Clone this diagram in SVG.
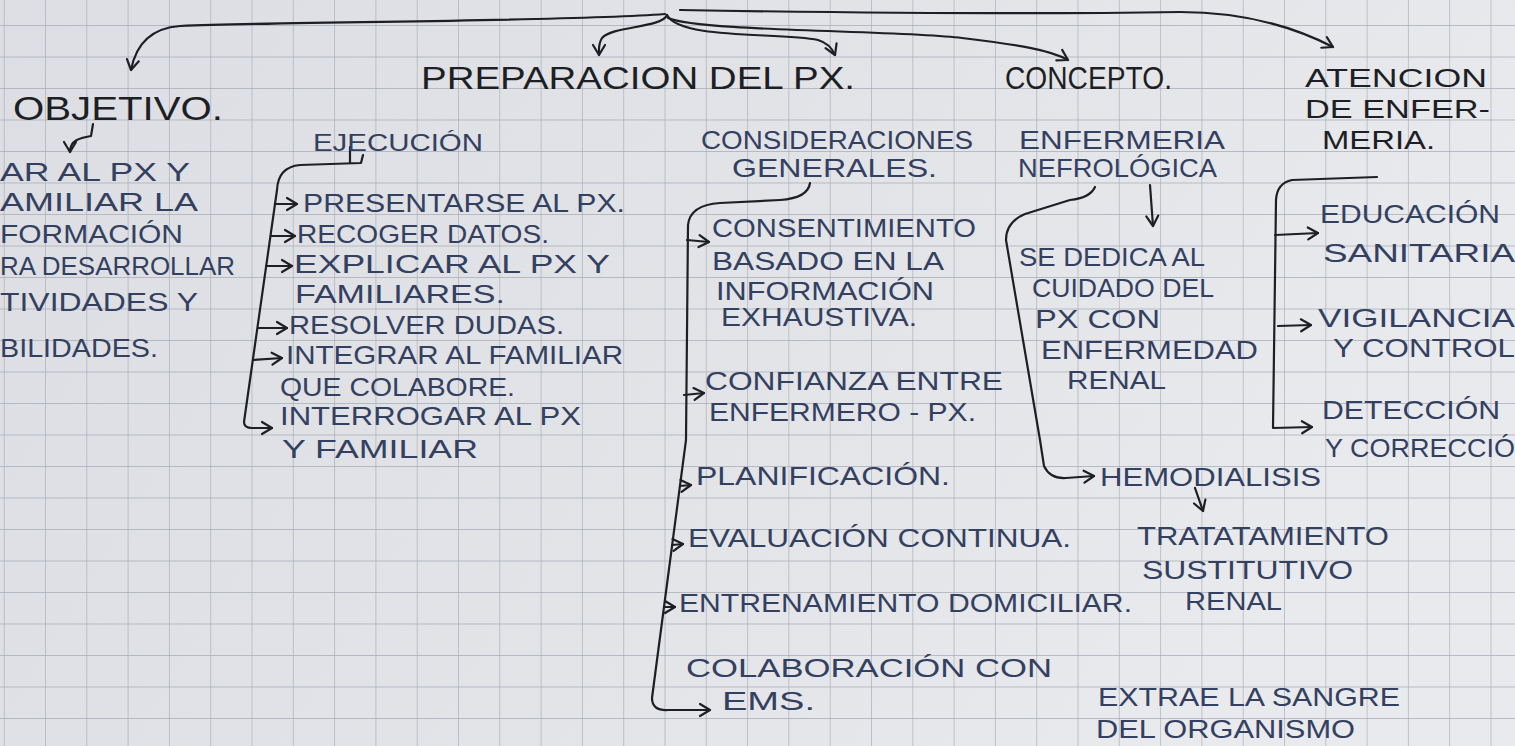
<svg xmlns="http://www.w3.org/2000/svg" width="1515" height="746" viewBox="0 0 1515 746">
<style>
.h{font-family:"Liberation Sans",Arial,sans-serif;fill:#1e1f24;font-size:32px}
.a{font-family:"Liberation Sans",Arial,sans-serif;fill:#1e1f24;font-size:25px}
.b{font-family:"Liberation Sans",Arial,sans-serif;fill:#34405f;font-size:25px}
.c{fill:none;stroke:#1e1f24;stroke-width:2.2;stroke-linecap:round;stroke-linejoin:round}
</style>
<defs>
<linearGradient id="paper" x1="0" y1="0" x2="1" y2="0.3">
<stop offset="0" stop-color="#dcdee3"/>
<stop offset="0.6" stop-color="#e2e4e8"/>
<stop offset="1" stop-color="#e9eaed"/>
</linearGradient>
<pattern id="grid" patternUnits="userSpaceOnUse" x="3.7" y="25" width="41.3" height="31.5">
<path d="M0,0 H41.3 M0,0 V31.5" fill="none" stroke="#a7acb5" stroke-width="1.3"/>
</pattern>
<marker id="v" markerUnits="userSpaceOnUse" markerWidth="16" markerHeight="16" viewBox="0 0 16 16" refX="13" refY="8" orient="auto">
<path d="M3,2 L13,8 L3,14" fill="none" stroke="#1e1f24" stroke-width="2.2" stroke-linecap="round" stroke-linejoin="round"/>
</marker>
</defs>
<rect width="1515" height="746" fill="url(#paper)"/>
<rect width="1515" height="746" fill="url(#grid)"/>

<g id="connectors">
<path class="c" d="M665,14 C560,22 300,21 180,26 C152,28 136,44 131,70" marker-end="url(#v)"/>
<path class="c" d="M667,15 C662,28 612,26 602,38 C598,44 599,50 599,55" marker-end="url(#v)"/>
<path class="c" d="M667,15 C680,40 780,32 818,40 C828,43 832,48 835,55" marker-end="url(#v)"/>
<path class="c" d="M668,18 C700,32 900,30 962,38 C1020,45 1050,50 1068,60" marker-end="url(#v)"/>
<path class="c" d="M680,10 C800,12 1000,15 1180,12 C1250,12 1300,30 1333,47" marker-end="url(#v)"/>
<path class="c" d="M93,124 L91,136 C80,138 70,140 70,152" marker-end="url(#v)"/>
<path class="c" d="M350,147 L350,163 M363,155 L361,163 L300,165 Q278,167 277,190 L244,422 Q244,428 252,428 L272,428" marker-end="url(#v)"/>
<path class="c" d="M275,204 L297,204" marker-end="url(#v)"/>
<path class="c" d="M271,236 L295,236" marker-end="url(#v)"/>
<path class="c" d="M266,266 L292,266" marker-end="url(#v)"/>
<path class="c" d="M258,328 L287,328" marker-end="url(#v)"/>
<path class="c" d="M253,360 L282,358" marker-end="url(#v)"/>
<path class="c" d="M810,183 Q808,198 780,200 L720,203 Q690,205 688,225 L686,440 L652,698 Q652,711 668,710 L710,710" marker-end="url(#v)"/>
<path class="c" d="M687,240 L709,242" marker-end="url(#v)"/>
<path class="c" d="M684,395 L704,393" marker-end="url(#v)"/>
<path class="c" d="M680,486 L691,485" marker-end="url(#v)"/>
<path class="c" d="M672,545 L683,544" marker-end="url(#v)"/>
<path class="c" d="M664,607 L675,607" marker-end="url(#v)"/>
<path class="c" d="M1095,187 Q1090,198 1070,200 L1025,214 Q1006,222 1006,240 L1040,440 L1044,466 Q1050,479 1066,478 L1094,476" marker-end="url(#v)"/>
<path class="c" d="M1150,185 L1153,226" marker-end="url(#v)"/>
<path class="c" d="M1195,488 L1203,511" marker-end="url(#v)"/>
<path class="c" d="M1377,177 L1292,180 Q1277,183 1276,200 L1273,428 L1312,427" marker-end="url(#v)"/>
<path class="c" d="M1275,235 L1318,233" marker-end="url(#v)"/>
<path class="c" d="M1278,326 L1311,325" marker-end="url(#v)"/>
</g>

<g id="objetivo">
<text class="h" x="13" y="120" style="font-size:34px" textLength="210" lengthAdjust="spacingAndGlyphs">OBJETIVO.</text>
<text class="b" x="0" y="181" textLength="190" lengthAdjust="spacingAndGlyphs">AR AL PX Y</text>
<text class="b" x="0" y="211" textLength="198" lengthAdjust="spacingAndGlyphs">AMILIAR LA</text>
<text class="b" x="0" y="243" textLength="183" lengthAdjust="spacingAndGlyphs">FORMACIÓN</text>
<text class="b" x="0" y="275" textLength="235" lengthAdjust="spacingAndGlyphs">RA DESARROLLAR</text>
<text class="b" x="0" y="311" textLength="198" lengthAdjust="spacingAndGlyphs">TIVIDADES Y</text>
<text class="b" x="0" y="357" textLength="158" lengthAdjust="spacingAndGlyphs">BILIDADES.</text>
</g>

<g id="preparacion">
<text class="h" x="421" y="89" style="font-size:31px" textLength="434" lengthAdjust="spacingAndGlyphs">PREPARACION DEL PX.</text>
</g>

<g id="ejecucion">
<text class="b" x="313" y="151" style="font-size:23px" textLength="170" lengthAdjust="spacingAndGlyphs">EJECUCIÓN</text>
<text class="b" x="303" y="212" textLength="322" lengthAdjust="spacingAndGlyphs">PRESENTARSE AL PX.</text>
<text class="b" x="297" y="243" textLength="252" lengthAdjust="spacingAndGlyphs">RECOGER DATOS.</text>
<text class="b" x="294" y="273" textLength="316" lengthAdjust="spacingAndGlyphs">EXPLICAR AL PX Y</text>
<text class="b" x="295" y="303" textLength="210" lengthAdjust="spacingAndGlyphs">FAMILIARES.</text>
<text class="b" x="289" y="334" textLength="275" lengthAdjust="spacingAndGlyphs">RESOLVER DUDAS.</text>
<text class="b" x="286" y="364" textLength="337" lengthAdjust="spacingAndGlyphs">INTEGRAR AL FAMILIAR</text>
<text class="b" x="280" y="396" textLength="235" lengthAdjust="spacingAndGlyphs">QUE COLABORE.</text>
<text class="b" x="280" y="425" textLength="301" lengthAdjust="spacingAndGlyphs">INTERROGAR AL PX</text>
<text class="b" x="282" y="458" textLength="196" lengthAdjust="spacingAndGlyphs">Y FAMILIAR</text>
</g>

<g id="consideraciones">
<text class="b" x="701" y="149" textLength="272" lengthAdjust="spacingAndGlyphs">CONSIDERACIONES</text>
<text class="b" x="732" y="177" textLength="205" lengthAdjust="spacingAndGlyphs">GENERALES.</text>
<text class="b" x="712" y="237" textLength="264" lengthAdjust="spacingAndGlyphs">CONSENTIMIENTO</text>
<text class="b" x="712" y="270" textLength="232" lengthAdjust="spacingAndGlyphs">BASADO EN LA</text>
<text class="b" x="716" y="300" textLength="218" lengthAdjust="spacingAndGlyphs">INFORMACIÓN</text>
<text class="b" x="721" y="326" textLength="196" lengthAdjust="spacingAndGlyphs">EXHAUSTIVA.</text>
<text class="b" x="705" y="390" textLength="298" lengthAdjust="spacingAndGlyphs">CONFIANZA ENTRE</text>
<text class="b" x="709" y="421" textLength="267" lengthAdjust="spacingAndGlyphs">ENFERMERO - PX.</text>
<text class="b" x="696" y="485" textLength="254" lengthAdjust="spacingAndGlyphs">PLANIFICACIÓN.</text>
<text class="b" x="688" y="547" textLength="383" lengthAdjust="spacingAndGlyphs">EVALUACIÓN CONTINUA.</text>
<text class="b" x="679" y="612" textLength="453" lengthAdjust="spacingAndGlyphs">ENTRENAMIENTO DOMICILIAR.</text>
<text class="b" x="686" y="677" textLength="366" lengthAdjust="spacingAndGlyphs">COLABORACIÓN CON</text>
<text class="b" x="722" y="710" textLength="93" lengthAdjust="spacingAndGlyphs">EMS.</text>
</g>

<g id="concepto">
<text class="h" x="1005" y="89" style="font-size:31px" textLength="167" lengthAdjust="spacingAndGlyphs">CONCEPTO.</text>
<text class="b" x="1019" y="149" textLength="206" lengthAdjust="spacingAndGlyphs">ENFERMERIA</text>
<text class="b" x="1018" y="177" textLength="199" lengthAdjust="spacingAndGlyphs">NEFROLÓGICA</text>
<text class="b" x="1019" y="266" textLength="186" lengthAdjust="spacingAndGlyphs">SE DEDICA AL</text>
<text class="b" x="1032" y="297" textLength="182" lengthAdjust="spacingAndGlyphs">CUIDADO DEL</text>
<text class="b" x="1035" y="328" textLength="125" lengthAdjust="spacingAndGlyphs">PX CON</text>
<text class="b" x="1041" y="359" textLength="217" lengthAdjust="spacingAndGlyphs">ENFERMEDAD</text>
<text class="b" x="1067" y="389" textLength="99" lengthAdjust="spacingAndGlyphs">RENAL</text>
</g>

<g id="hemodialisis">
<text class="b" x="1100" y="486" textLength="221" lengthAdjust="spacingAndGlyphs">HEMODIALISIS</text>
<text class="b" x="1137" y="545" textLength="252" lengthAdjust="spacingAndGlyphs">TRATATAMIENTO</text>
<text class="b" x="1142" y="579" textLength="211" lengthAdjust="spacingAndGlyphs">SUSTITUTIVO</text>
<text class="b" x="1185" y="610" textLength="97" lengthAdjust="spacingAndGlyphs">RENAL</text>
<text class="b" x="1098" y="706" textLength="302" lengthAdjust="spacingAndGlyphs">EXTRAE LA SANGRE</text>
<text class="b" x="1096" y="738" textLength="259" lengthAdjust="spacingAndGlyphs">DEL ORGANISMO</text>
</g>

<g id="atencion">
<text class="a" x="1305" y="87" textLength="182" lengthAdjust="spacingAndGlyphs">ATENCION</text>
<text class="a" x="1305" y="118" textLength="185" lengthAdjust="spacingAndGlyphs">DE ENFER-</text>
<text class="a" x="1322" y="149" textLength="113" lengthAdjust="spacingAndGlyphs">MERIA.</text>
<text class="b" x="1320" y="223" textLength="180" lengthAdjust="spacingAndGlyphs">EDUCACIÓN</text>
<text class="b" x="1323" y="262" textLength="192" lengthAdjust="spacingAndGlyphs">SANITARIA</text>
<text class="b" x="1318" y="327" textLength="197" lengthAdjust="spacingAndGlyphs">VIGILANCIA</text>
<text class="b" x="1333" y="357" textLength="182" lengthAdjust="spacingAndGlyphs">Y CONTROL</text>
<text class="b" x="1322" y="419" textLength="178" lengthAdjust="spacingAndGlyphs">DETECCIÓN</text>
<text class="b" x="1325" y="457" textLength="190" lengthAdjust="spacingAndGlyphs">Y CORRECCIÓ</text>
</g>
</svg>
